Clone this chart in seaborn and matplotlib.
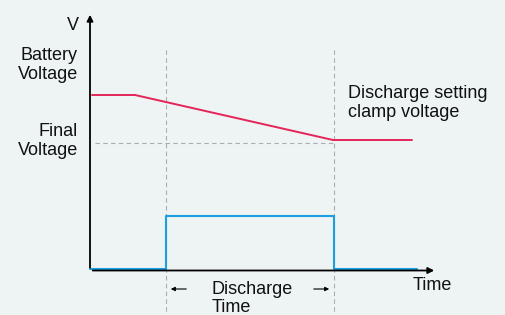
import matplotlib
matplotlib.use("Agg")
import matplotlib.pyplot as plt
import seaborn as sns
import pandas as pd

# 数据：放电过程中的电池电压和放电信号
voltage_time = [0.2, 4.5, 24.3, 32.2]
voltage_values = [17.5, 17.5, 13.0, 13.0]
signal_time = [0.0, 7.6, 7.6, 24.4, 24.4, 32.7]
signal_values = [0.15, 0.15, 5.4, 5.4, 0.15, 0.15]
discharge_start = 7.6
discharge_end = 24.4
final_voltage = 12.7

sns.set_theme(style="white")
plt.rcParams['font.family'] = ['Liberation Sans', 'DejaVu Sans']
plt.rcParams['text.color'] = '#111111'

BG = "#eef3f3"
RED = "#e5245a"
BLUE = "#1b9fe0"
GREY = "#a8adad"

fig = plt.figure(figsize=(5.06, 3.15), dpi=100, facecolor=BG)
ax = fig.add_axes([0, 0, 1, 1])
ax.set_facecolor(BG)

# 虚线：放电开始/结束 与 终止电压
for t in (discharge_start, discharge_end):
    ax.plot([t, t], [22.0, -4.5], color=GREY, lw=0.8, ls=(0, (4, 3)))
ax.plot([0.5, discharge_end], [final_voltage, final_voltage], color=GREY, lw=0.8, ls=(0, (4, 3)))

volt_df = pd.DataFrame({"t": voltage_time, "v": voltage_values})
sig_df = pd.DataFrame({"t": signal_time, "v": signal_values})
sns.lineplot(data=volt_df, x="t", y="v", ax=ax, color=RED, lw=1.4,
             estimator=None, sort=False)
sns.lineplot(data=sig_df, x="t", y="v", ax=ax, color=BLUE, lw=1.5,
             estimator=None, sort=False)
ax.set_xlim(-9.0, 41.6)
ax.set_ylim(-4.5, 27.0)
ax.axis("off")

# 坐标轴箭头
ax.annotate("", xy=(0, 25.8), xytext=(0, -0.05),
            arrowprops=dict(arrowstyle="-|>", color="black", lw=1.3, mutation_scale=9))
ax.annotate("", xy=(34.7, -0.05), xytext=(0, -0.05),
            arrowprops=dict(arrowstyle="-|>", color="black", lw=1.3, mutation_scale=9))

fs = 13
ls = 1.08
ax.text(-1.7, 24.4, "V", ha="center", va="center", fontsize=fs)
ax.text(-1.2, 20.5, "Battery\nVoltage", ha="right", va="center", fontsize=fs, linespacing=ls)
ax.text(-1.2, 12.9, "Final\nVoltage", ha="right", va="center", fontsize=fs, linespacing=ls)
ax.text(25.8, 16.7, "Discharge setting\nclamp voltage", ha="left", va="center", fontsize=fs, linespacing=ls)
ax.text(34.2, -1.5, "Time", ha="center", va="center", fontsize=fs)
ax.text(12.2, -2.85, "Discharge\nTime", ha="left", va="center", fontsize=fs, linespacing=1.0)

# 放电时间指示箭头
ax.annotate("", xy=(7.8, -1.9), xytext=(9.9, -1.9),
            arrowprops=dict(arrowstyle="-|>", color="black", lw=0.8, mutation_scale=6))
ax.annotate("", xy=(24.2, -1.9), xytext=(22.1, -1.9),
            arrowprops=dict(arrowstyle="-|>", color="black", lw=0.8, mutation_scale=6))

fig.savefig("out.png", dpi=100, facecolor=BG)
